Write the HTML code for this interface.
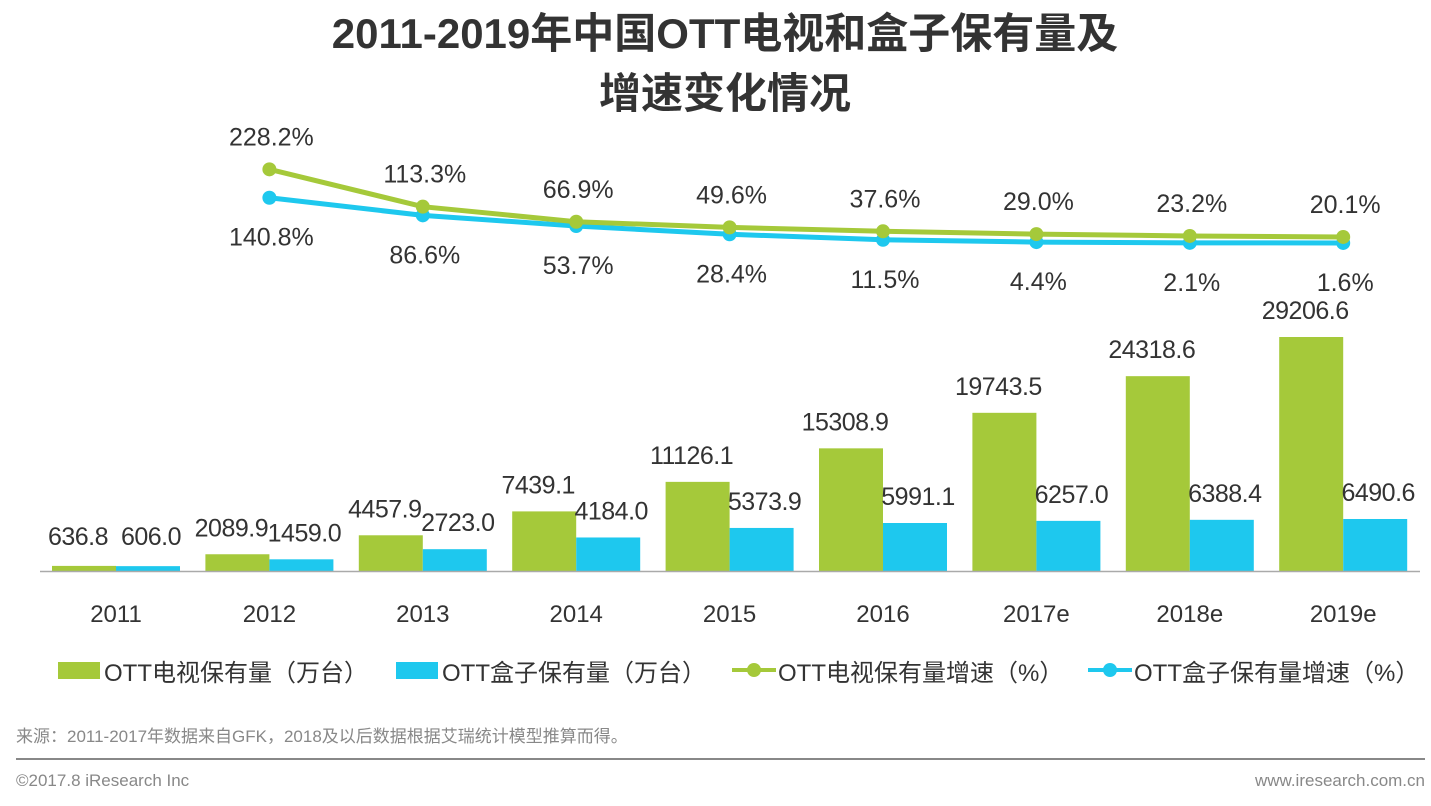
<!DOCTYPE html>
<html><head><meta charset="utf-8">
<style>
html,body{margin:0;padding:0;background:#fff;}
body{width:1431px;height:801px;overflow:hidden;font-family:"Liberation Sans","Noto Sans CJK SC",sans-serif;}
svg text{font-family:"Liberation Sans","Noto Sans CJK SC",sans-serif;}
</style></head>
<body>
<svg id="chart" width="1431" height="801" xmlns="http://www.w3.org/2000/svg">
<text x="725" y="48" text-anchor="middle" font-size="42" font-weight="bold" fill="#333">2011-2019年中国OTT电视和盒子保有量及</text>
<text x="725" y="108" text-anchor="middle" font-size="42" font-weight="bold" fill="#333">增速变化情况</text>
<g id="bars"></g>
<g id="lines"></g>
<line x1="40" y1="571.5" x2="1420" y2="571.5" stroke="#aaa" stroke-width="1.5"/>
<g id="xlabels"></g>
<g font-size="24" fill="#333">
<rect x="58" y="662" width="42" height="17" fill="#a5c93a"/>
<text x="104" y="681">OTT电视保有量（万台）</text>
<rect x="396" y="662" width="42" height="17" fill="#1ec8ee"/>
<text x="442" y="681">OTT盒子保有量（万台）</text>
<line x1="732" y1="670" x2="776" y2="670" stroke="#a5c93a" stroke-width="4"/>
<circle cx="754" cy="670" r="7" fill="#a5c93a"/>
<text x="778" y="681">OTT电视保有量增速（%）</text>
<line x1="1088" y1="670" x2="1132" y2="670" stroke="#1ec8ee" stroke-width="4"/>
<circle cx="1110" cy="670" r="7" fill="#1ec8ee"/>
<text x="1134" y="681">OTT盒子保有量增速（%）</text>
</g>
<text x="16" y="742" font-size="17" fill="#888">来源：2011-2017年数据来自GFK，2018及以后数据根据艾瑞统计模型推算而得。</text>
<line x1="16" y1="759" x2="1425" y2="759" stroke="#888" stroke-width="2"/>
<text x="16" y="786" font-size="17" fill="#888">©2017.8 iResearch Inc</text>
<text x="1425" y="786" text-anchor="end" font-size="17" fill="#888">www.iresearch.com.cn</text>
</svg>
<script>
const categories = ["2011","2012","2013","2014","2015","2016","2017e","2018e","2019e"];
const tvStock = [636.8,2089.9,4457.9,7439.1,11126.1,15308.9,19743.5,24318.6,29206.6];
const boxStock = [606.0,1459.0,2723.0,4184.0,5373.9,5991.1,6257.0,6388.4,6490.6];
const growthCategories = ["2012","2013","2014","2015","2016","2017e","2018e","2019e"];
const tvGrowth = [228.2,113.3,66.9,49.6,37.6,29.0,23.2,20.1];
const boxGrowth = [140.8,86.6,53.7,28.4,11.5,4.4,2.1,1.6];

const NS="http://www.w3.org/2000/svg";
const GREEN="#a5c93a", BLUE="#1ec8ee";
function xCenter(cat){const i=categories.indexOf(cat);return 116+i*153.4;}
function yBar(v){return 571-v*(234/29206.6);}
function yLine(v){return 243.5-v*0.325;}
function mk(tag,attrs,parent){const e=document.createElementNS(NS,tag);for(const k in attrs)e.setAttribute(k,attrs[k]);parent.appendChild(e);return e;}
const bars=document.getElementById('bars'), lines=document.getElementById('lines'), xl=document.getElementById('xlabels');
const BW=64;
categories.forEach((c,i)=>{
  const cx=xCenter(c);
  const gt=yBar(tvStock[i]), bt=yBar(boxStock[i]);
  const r1=mk('rect',{x:cx-BW,y:gt,width:BW,height:571-gt,fill:GREEN},bars);
  
  
  const r2=mk('rect',{x:cx,y:bt,width:BW,height:571-bt,fill:BLUE},bars);
  
  
  const t1=mk('text',{x:cx-BW/2-6,y:Math.min(gt-18,545),'text-anchor':'middle','font-size':25,'letter-spacing':-0.5,fill:'#333'},bars);
  t1.textContent=tvStock[i].toFixed(1);
  
  
  const t2=mk('text',{x:cx+BW/2+3,y:Math.min(bt-18,545),'text-anchor':'middle','font-size':25,'letter-spacing':-0.5,fill:'#333'},bars);
  t2.textContent=boxStock[i].toFixed(1);
  
  
  const xt=mk('text',{x:cx,y:622,'text-anchor':'middle','font-size':24,fill:'#333'},xl);
  xt.textContent=c;
  
  
});
function drawLine(vals,color,name,above){
  const pts=growthCategories.map((c,i)=>[xCenter(c),yLine(vals[i])]);
  const pl=mk('polyline',{points:pts.map(p=>p.join(',')).join(' '),fill:'none',stroke:color,'stroke-width':5},lines);
  
  
  pts.forEach((p,i)=>{
    const c=mk('circle',{cx:p[0],cy:p[1],r:7,fill:color},lines);
    
    
    const t=mk('text',{x:p[0]+2,y:above?p[1]-24:p[1]+48,'text-anchor':'middle','font-size':25,fill:'#333'},lines);
    t.textContent=vals[i].toFixed(1)+'%';
    
    
  });
}
drawLine(boxGrowth,BLUE,'box-growth',false);
drawLine(tvGrowth,GREEN,'tv-growth',true);
</script>
</body></html>
